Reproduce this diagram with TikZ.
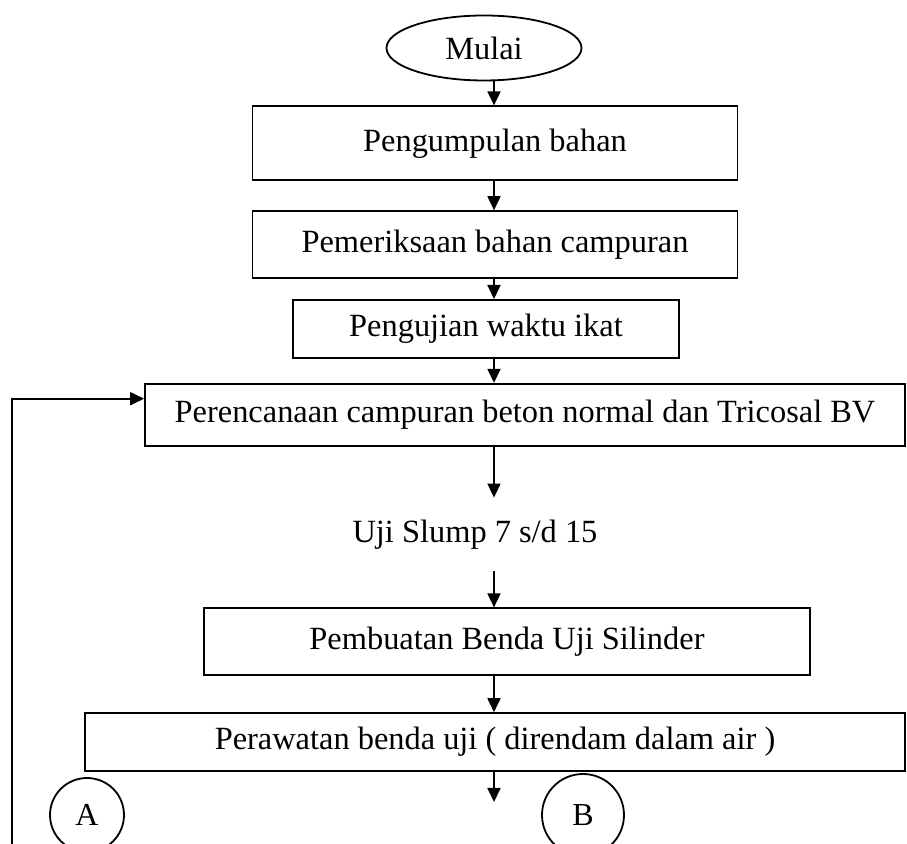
\documentclass[tikz,border=0pt]{standalone}
\usepackage{fontspec}
\setmainfont{Liberation Serif}
\usetikzlibrary{positioning, shapes.geometric, arrows.meta}

\begin{document}
\begin{tikzpicture}[every node/.style={inner sep=2pt, font=\fontsize{16.2}{18}\selectfont},
  box/.style={draw, line width=0.9pt, align=center},
  conn/.style={draw, circle, line width=0.9pt, inner sep=0pt, font=\fontsize{16}{18}\selectfont},
  arrow/.style={-{Triangle[width=6.5pt, length=7pt]}, line width=0.9pt}]
\useasboundingbox (0,0) rectangle (453.5pt,-422pt);
\clip (0,0) rectangle (453.5pt,-422pt);
\node[draw, ellipse, line width=0.9pt, minimum width=97.5pt, minimum height=32.5pt] (mulai) at (242pt,-24pt) {Mulai};
\node[box, minimum width=242.5pt, minimum height=37pt, below=12pt of mulai, xshift=5.5pt] (kumpul) {Pengumpulan bahan};
\node[box, minimum width=242.5pt, minimum height=33.5pt, below=14.5pt of kumpul] (periksa) {Pemeriksaan bahan campuran};
\node[box, minimum width=193pt, minimum height=29pt, below=10pt of periksa, xshift=-4.5pt] (ikat) {Pengujian waktu ikat};
\node[box, minimum width=380pt, minimum height=31pt, below=12pt of ikat, xshift=19.5pt] (rencana) {Perencanaan campuran beton normal dan Tricosal BV};
\node[minimum height=36.5pt, below=25.5pt of rencana, xshift=-25pt] (slump) {Uji Slump 7 s/d 15};
\node[box, minimum width=303pt, minimum height=33.5pt, below=18pt of slump, xshift=16pt] (buat) {Pembuatan Benda Uji Silinder};
\node[box, minimum width=410pt, minimum height=29pt, below=18pt of buat, xshift=-6pt] (rawat) {Perawatan benda uji ( direndam dalam air )};
\node[conn, minimum size=37pt] (A) at (43.5pt,-407.5pt) {A};
\node[conn, minimum size=41pt] (B) at (291.5pt,-407.5pt) {B};
\coordinate (col) at (247pt,0);
\coordinate (ujung) at (247pt,-401pt);
\coordinate (balik) at (6pt,-422pt);
% alur utama
\foreach \a/\b in {mulai/kumpul, kumpul/periksa, periksa/ikat, ikat/rencana, rencana/slump, slump/buat, buat/rawat}
  \draw[arrow] (\a.south -| col) -- (\b.north -| col);
\draw[arrow] (rawat.south -| col) -- (ujung);
% kembali ke perencanaan
\draw[arrow] (balik) |- ([yshift=8pt]rencana.west);
\end{tikzpicture}
\end{document}
